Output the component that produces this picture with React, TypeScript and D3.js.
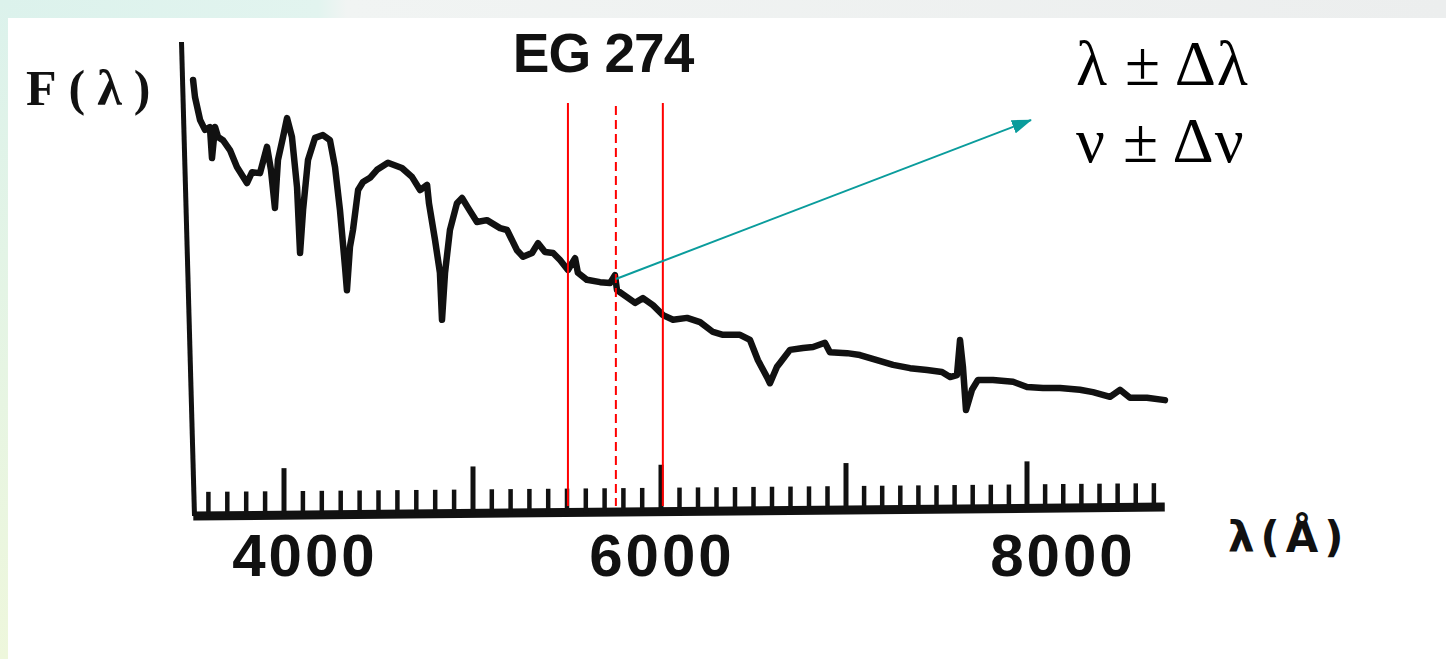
import React, { useEffect, useRef } from 'react'
import * as d3 from 'd3'

// spectrum of EG 274 (wavelength in Å, flux in arbitrary units)
const wavelength = [
  3519, 3529, 3556, 3582, 3608, 3619, 3635, 3651, 3677, 3714, 3751, 3804, 3831, 3873, 3910, 3931, 3952, 3968, 3995,
  4016, 4042, 4069, 4085, 4101, 4127, 4164, 4206, 4243, 4270, 4296, 4323, 4333, 4349, 4365, 4392, 4418, 4455, 4492,
  4550, 4624, 4677, 4720, 4757, 4767, 4799, 4825, 4836, 4852, 4878, 4915, 4942, 4974,
  5021, 5074, 5144, 5181, 5234, 5266, 5314, 5346, 5383, 5426, 5463, 5505, 5543, 5558, 5606, 5676, 5729, 5755, 5766,
  5819, 5862, 5904, 5957,
  6011, 6065, 6141, 6211, 6281, 6335, 6427, 6481, 6524, 6573, 6589, 6627, 6643, 6697, 6768, 6822, 6886, 6913,
  7006, 7077, 7171, 7260, 7354, 7448, 7530, 7575, 7613, 7630, 7646, 7663, 7696, 7729, 7812, 7923,
  8000, 8088, 8182, 8292, 8364, 8458, 8513, 8568, 8662, 8761
]
const flux = [
  91.9, 88.3, 83.4, 81.3, 81.9, 75.3, 81.9, 79.8, 79.1, 77.0, 73.4, 70.0, 72.3, 72.1, 77.7, 72.8, 64.7, 74.9, 79.8,
  83.8, 79.8, 69.1, 55.1, 64.3, 74.9, 79.6, 80.2, 79.1, 73.4, 64.3, 52.1, 47.2, 56.4, 60.0, 68.5, 70.2, 71.1, 72.8,
  74.3, 73.2, 71.3, 68.5, 69.6, 65.7, 57.9, 50.9, 40.9, 50.9, 60.0, 65.7, 66.8, 64.7,
  61.7, 62.1, 60.4, 60.0, 55.7, 54.3, 55.1, 57.2, 55.3, 55.1, 53.6, 51.5, 54.0, 50.9, 49.4, 48.9, 48.7, 50.4, 47.2,
  45.7, 44.5, 45.5, 44.0,
  41.9, 40.9, 41.3, 40.4, 38.3, 37.7, 37.7, 36.6, 32.3, 28.7, 27.4, 30.9, 31.7, 34.5, 34.9, 35.1, 36.0, 34.0,
  33.8, 33.4, 32.3, 31.3, 30.6, 30.2, 29.8, 28.7, 29.1, 36.6, 30.9, 21.7, 26.0, 28.1, 28.1, 27.7,
  26.6, 26.4, 26.4, 26.0, 25.5, 24.5, 26.0, 24.3, 24.3, 23.8
]

const majorTicks = [4000, 5000, 6000, 7000, 8000]
const minorTicks = d3.range(3600, 8701, 100)
const tickLabels = ['4000', '6000', '8000']
const tickLabelValues = [4000, 6000, 8000]
const labelNudge = [21, 1, 36]

const bandEdges = [5505, 6010]
const bandCenter = [5760]

function App() {
  const ref = useRef<SVGSVGElement>(null)

  useEffect(() => {
    drawChart(ref.current!)
  }, [])

  return (
    <svg ref={ref} width={1446} height={659}
      style={{ position: 'absolute', left: 0, top: 0, background: '#fff' }} />
  )
}

function drawChart(node: SVGSVGElement) {
  const svg = d3.select(node)
  svg.selectAll('*').remove()

  // the scanned axis is not quite linear, so map each 1000 Å step separately
  const x = d3.scaleLinear()
    .domain([3500, 4000, 5000, 6000, 7000, 8000, 8800])
    .range([189.5, 284, 473, 661, 846, 1027, 1172])
  const y = d3.scaleLinear().domain([0, 100]).range([512, 42])
  // baseline of the scan tilts slightly
  const baseY = d3.scaleLinear().domain([3500, 8800]).range([516, 507])

  // slide background
  const defs = svg.append('defs')
  const gTop = defs.append('linearGradient').attr('id', 'topband')
  gTop.append('stop').attr('offset', '0%').attr('stop-color', '#dcf2ec')
  gTop.append('stop').attr('offset', '22%').attr('stop-color', '#e2f4ef')
  gTop.append('stop').attr('offset', '24%').attr('stop-color', '#f1f4f3')
  gTop.append('stop').attr('offset', '100%').attr('stop-color', '#eceeee')
  const gLeft = defs.append('linearGradient').attr('id', 'leftband')
    .attr('x1', 0).attr('y1', 0).attr('x2', 0).attr('y2', 1)
  gLeft.append('stop').attr('offset', '0%').attr('stop-color', '#dcf2ec')
  gLeft.append('stop').attr('offset', '100%').attr('stop-color', '#eef7dc')

  svg.append('rect').attr('width', 1446).attr('height', 659).attr('fill', '#fff')
  svg.append('rect').attr('width', 1446).attr('height', 18).attr('fill', 'url(#topband)')
  svg.append('rect').attr('width', 8).attr('height', 659).attr('fill', 'url(#leftband)')

  const ink = '#111'

  // vertical axis (slanted in the scan)
  svg.append('line')
    .attr('x1', x(3500) - 8).attr('y1', 42)
    .attr('x2', x(3500) + 5).attr('y2', baseY(3500))
    .attr('stroke', ink).attr('stroke-width', 5)

  // horizontal axis
  svg.append('line')
    .attr('x1', x(3520)).attr('y1', baseY(3520))
    .attr('x2', x(8760)).attr('y2', baseY(8760))
    .attr('stroke', ink).attr('stroke-width', 9)

  svg.append('g')
    .selectAll('line')
    .data(minorTicks)
    .enter()
    .append('line')
    .attr('x1', d => x(d)).attr('x2', d => x(d))
    .attr('y1', d => baseY(d))
    .attr('y2', d => baseY(d) - (majorTicks.includes(d) ? 47 : 24))
    .attr('stroke', ink)
    .attr('stroke-width', d => majorTicks.includes(d) ? 5 : 4.5)

  svg.append('g')
    .selectAll('text')
    .data(tickLabels)
    .enter()
    .append('text')
    .attr('x', (d, i) => x(tickLabelValues[i]) + labelNudge[i])
    .attr('y', 576)
    .attr('text-anchor', 'middle')
    .attr('font-family', 'Liberation Sans, Arial, sans-serif')
    .attr('font-weight', 'bold')
    .attr('font-size', 60)
    .attr('letter-spacing', 3)
    .attr('fill', ink)
    .text(d => d)

  // spectrum
  const line = d3.line<number>()
    .x((d, i) => x(wavelength[i]))
    .y(d => y(d))
  svg.append('path')
    .datum(flux)
    .attr('d', line)
    .attr('fill', 'none')
    .attr('stroke', ink)
    .attr('stroke-width', 6.5)
    .attr('stroke-linejoin', 'round')
    .attr('stroke-linecap', 'round')

  // passband markers
  svg.append('g')
    .selectAll('line')
    .data(bandEdges)
    .enter()
    .append('line')
    .attr('x1', d => x(d)).attr('x2', d => x(d))
    .attr('y1', 103).attr('y2', 506)
    .attr('stroke', '#f00').attr('stroke-width', 2)
  svg.append('g')
    .selectAll('line')
    .data(bandCenter)
    .enter()
    .append('line')
    .attr('x1', d => x(d)).attr('x2', d => x(d))
    .attr('y1', 106).attr('y2', 506)
    .attr('stroke', '#f00').attr('stroke-width', 2)
    .attr('stroke-dasharray', '9,5')

  // arrow to the annotation
  const teal = '#0a9c9c'
  defs.append('marker')
    .attr('id', 'arrow')
    .attr('viewBox', '0 0 20 14')
    .attr('refX', 19).attr('refY', 7)
    .attr('markerWidth', 20).attr('markerHeight', 14)
    .attr('markerUnits', 'userSpaceOnUse')
    .attr('orient', 'auto')
    .append('path')
    .attr('d', 'M0,0 L20,7 L0,14 Z')
    .attr('fill', teal)
  svg.append('line')
    .attr('x1', x(bandCenter[0])).attr('y1', 279)
    .attr('x2', 1031).attr('y2', 120)
    .attr('stroke', teal).attr('stroke-width', 2)
    .attr('marker-end', 'url(#arrow)')

  // titles and labels
  svg.append('text')
    .attr('x', 603).attr('y', 72)
    .attr('text-anchor', 'middle')
    .attr('font-family', 'Liberation Sans, Arial, sans-serif')
    .attr('font-weight', 'bold')
    .attr('font-size', 55)
    .attr('letter-spacing', -1)
    .attr('fill', ink)
    .text('EG 274')

  svg.append('text')
    .attr('x', 26).attr('y', 105)
    .attr('font-family', 'Liberation Serif, Times New Roman, serif')
    .attr('font-weight', 'bold')
    .attr('font-size', 50)
    .attr('letter-spacing', 12)
    .attr('fill', ink)
    .text('F(λ)')

  svg.append('text')
    .attr('x', 1228).attr('y', 552)
    .attr('font-family', 'DejaVu Sans, sans-serif')
    .attr('font-weight', 'bold')
    .attr('font-size', 42)
    .attr('letter-spacing', 6)
    .attr('fill', ink)
    .text('λ(Å)')

  const notes = ['λ ± Δλ', 'ν ± Δν']
  svg.append('g')
    .selectAll('text')
    .data(notes)
    .enter()
    .append('text')
    .attr('x', 1076)
    .attr('y', (d, i) => 85 + i * 77)
    .attr('font-family', 'Liberation Serif, Times New Roman, serif')
    .attr('font-size', 64)
    .attr('letter-spacing', 1)
    .attr('fill', '#000')
    .text(d => d)
}

export default App
